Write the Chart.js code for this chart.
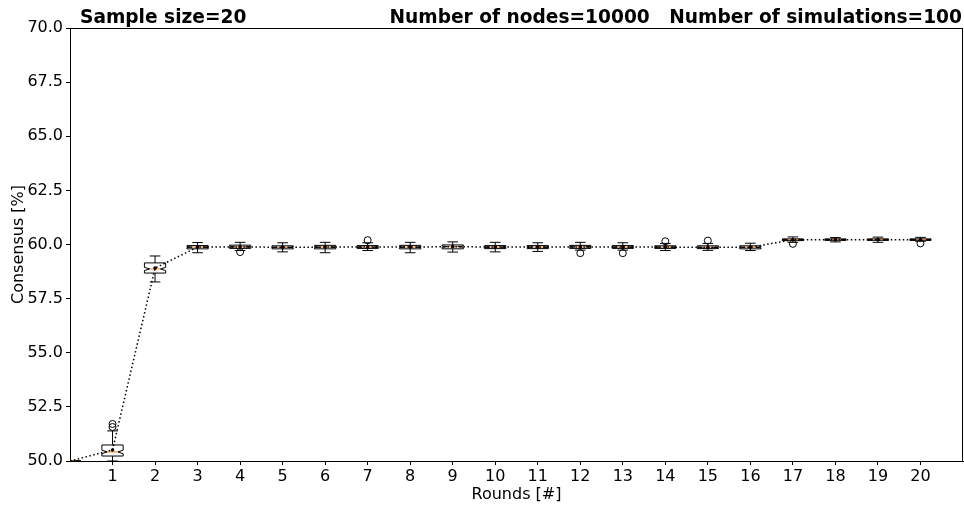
<!DOCTYPE html>
<html>
<head>
<meta charset="utf-8">
<script src="https://cdn.jsdelivr.net/npm/chart.js@4.4.1/dist/chart.umd.min.js"></script>
<style>
  html, body { margin: 0; padding: 0; background: #fff; }
  #wrap { width: 964px; height: 505px; }
</style>
</head>
<body>
<div id="wrap"><canvas id="consensusChart"></canvas></div>
<script>
// rounds 0..20, tick labels only for 1..20
const rounds = [0, 1, 2, 3, 4, 5, 6, 7, 8, 9, 10, 11, 12, 13, 14, 15, 16, 17, 18, 19, 20];
const tickLabels = ['1', '2', '3', '4', '5', '6', '7', '8', '9', '10',
                    '11', '12', '13', '14', '15', '16', '17', '18', '19', '20'];
const yTicks = [50.0, 52.5, 55.0, 57.5, 60.0, 62.5, 65.0, 67.5, 70.0];

const means       = [50.00, 50.51, 58.91, 59.88, 59.89, 59.87, 59.88, 59.88, 59.88, 59.90, 59.88, 59.88, 59.89, 59.88, 59.88, 59.87, 59.87, 60.22, 60.22, 60.22, 60.22];
const q1          = [50.00, 50.23, 58.68, 59.80, 59.82, 59.80, 59.80, 59.82, 59.80, 59.80, 59.81, 59.81, 59.82, 59.82, 59.82, 59.81, 59.80, 60.18, 60.19, 60.19, 60.19];
const medians     = [50.00, 50.42, 58.87, 59.88, 59.89, 59.87, 59.88, 59.88, 59.88, 59.90, 59.88, 59.88, 59.89, 59.88, 59.88, 59.87, 59.87, 60.22, 60.22, 60.22, 60.22];
const q3          = [50.00, 50.74, 59.15, 59.95, 59.97, 59.94, 59.96, 59.95, 59.96, 59.98, 59.95, 59.95, 59.96, 59.95, 59.94, 59.94, 59.94, 60.26, 60.26, 60.26, 60.26];
const whiskerLow  = [50.00, 50.00, 58.27, 59.62, 59.72, 59.66, 59.62, 59.72, 59.62, 59.65, 59.66, 59.68, 59.74, 59.74, 59.72, 59.73, 59.72, 60.10, 60.12, 60.10, 60.15];
const whiskerHigh = [50.00, 51.39, 59.47, 60.09, 60.10, 60.08, 60.10, 60.08, 60.10, 60.12, 60.10, 60.08, 60.10, 60.08, 60.05, 60.05, 60.06, 60.35, 60.32, 60.34, 60.33];
const outliers    = [[], [51.57, 51.71], [], [], [59.65], [], [], [60.20], [], [], [], [], [59.60], [59.60], [60.15], [60.18], [], [60.03], [], [], [60.05]];
const simulations = 100;

const boxPlugin = {
  id: 'boxes',
  beforeDatasetsDraw(chart) {
    const { ctx, chartArea, scales: { x, y } } = chart;
    ctx.save();
    ctx.beginPath();
    ctx.rect(chartArea.left, chartArea.top, chartArea.right - chartArea.left, chartArea.bottom - chartArea.top);
    ctx.clip();
    const halfW = (x.getPixelForValue(0.25) - x.getPixelForValue(0));
    rounds.forEach((r, i) => {
      const cx = x.getPixelForValue(r);
      const iqr = q3[i] - q1[i];
      const nLo = y.getPixelForValue(medians[i] - 1.57 * iqr / Math.sqrt(simulations));
      const nHi = y.getPixelForValue(medians[i] + 1.57 * iqr / Math.sqrt(simulations));
      const yq1 = y.getPixelForValue(q1[i]);
      const yq3 = y.getPixelForValue(q3[i]);
      const ym = y.getPixelForValue(medians[i]);
      const yLo = y.getPixelForValue(whiskerLow[i]);
      const yHi = y.getPixelForValue(whiskerHigh[i]);
      const L = cx - halfW, R = cx + halfW;
      ctx.lineWidth = 1;
      ctx.strokeStyle = '#000';
      // whiskers + caps
      ctx.beginPath();
      ctx.moveTo(cx, yq1); ctx.lineTo(cx, yLo);
      ctx.moveTo(cx, yq3); ctx.lineTo(cx, yHi);
      ctx.moveTo(cx - halfW / 2, yLo); ctx.lineTo(cx + halfW / 2, yLo);
      ctx.moveTo(cx - halfW / 2, yHi); ctx.lineTo(cx + halfW / 2, yHi);
      ctx.stroke();
      // notched box
      ctx.beginPath();
      ctx.moveTo(L, yq1);
      ctx.lineTo(L, nLo);
      ctx.lineTo(L + halfW / 2, ym);
      ctx.lineTo(L, nHi);
      ctx.lineTo(L, yq3);
      ctx.lineTo(R, yq3);
      ctx.lineTo(R, nHi);
      ctx.lineTo(R - halfW / 2, ym);
      ctx.lineTo(R, nLo);
      ctx.lineTo(R, yq1);
      ctx.closePath();
      ctx.fillStyle = '#fff';
      ctx.fill();
      ctx.stroke();
      // median
      ctx.strokeStyle = '#ff7f0e';
      ctx.beginPath();
      ctx.moveTo(L + halfW / 2, ym);
      ctx.lineTo(R - halfW / 2, ym);
      ctx.stroke();
      // outliers
      ctx.strokeStyle = '#000';
      outliers[i].forEach(v => {
        ctx.beginPath();
        ctx.arc(cx, y.getPixelForValue(v), 3.5, 0, Math.PI * 2);
        ctx.stroke();
      });
    });
    ctx.restore();
  },
  afterDraw(chart) {
    const { ctx, chartArea } = chart;
    ctx.save();
    ctx.strokeStyle = '#000';
    ctx.lineWidth = 1;
    ctx.strokeRect(Math.round(chartArea.left) + 0.5, Math.round(chartArea.top) + 0.5,
      Math.round(chartArea.right - chartArea.left) - 1, Math.round(chartArea.bottom - chartArea.top));
    ctx.fillStyle = '#000';
    ctx.font = 'bold 18.6px "DejaVu Sans"';
    ctx.textBaseline = 'alphabetic';
    ctx.textAlign = 'left';
    ctx.fillText('Sample size=20', 80, 23);
    ctx.textAlign = 'right';
    ctx.fillText('Number of nodes=10000   Number of simulations=100', 962, 23);
    ctx.restore();
  }
};

Chart.defaults.font.family = '"DejaVu Sans", sans-serif';
Chart.defaults.color = '#000';

new Chart(document.getElementById('consensusChart'), {
  type: 'scatter',
  data: {
    datasets: [{
      label: 'mean',
      data: rounds.map((r, i) => ({ x: r, y: means[i] })),
      showLine: true,
      borderColor: '#000',
      borderWidth: 1.5,
      borderDash: [1.5, 2.5],
      pointRadius: 1.8,
      pointBackgroundColor: '#000',
      pointBorderWidth: 0,
      clip: 0
    }]
  },
  options: {
    responsive: true,
    maintainAspectRatio: false,
    animation: false,
    layout: { autoPadding: false, padding: { top: 28, right: 1, left: 0, bottom: 0 } },
    plugins: { legend: { display: false }, tooltip: { enabled: false } },
    scales: {
      x: {
        type: 'linear',
        min: 0, max: 21,
        afterBuildTicks: s => { s.ticks = tickLabels.map(t => ({ value: Number(t) })); },
        afterFit: s => { s.height = 44; s.paddingLeft = 0; s.paddingRight = 0; },
        ticks: { font: { size: 16 }, padding: 2, maxRotation: 0, callback: v => String(v) },
        grid: { drawOnChartArea: false, drawTicks: true, tickLength: 4, color: '#000' },
        border: { display: true, color: '#000' },
        title: { display: true, text: 'Rounds [#]', font: { size: 16 }, padding: { top: 0, bottom: 1 } }
      },
      y: {
        min: 50, max: 70,
        afterBuildTicks: s => { s.ticks = yTicks.map(v => ({ value: v })); },
        afterFit: s => { s.width = 70; s.paddingTop = 0; s.paddingBottom = 0; },
        ticks: { font: { size: 16 }, padding: 3, callback: v => Number(v).toFixed(1) },
        grid: { drawOnChartArea: false, drawTicks: true, tickLength: 4, color: '#000' },
        border: { display: true, color: '#000' },
        title: { display: true, text: 'Consensus [%]', font: { size: 16 }, padding: { top: 9, bottom: 0 } }
      }
    }
  },
  plugins: [boxPlugin]
});
</script>
</body>
</html>
